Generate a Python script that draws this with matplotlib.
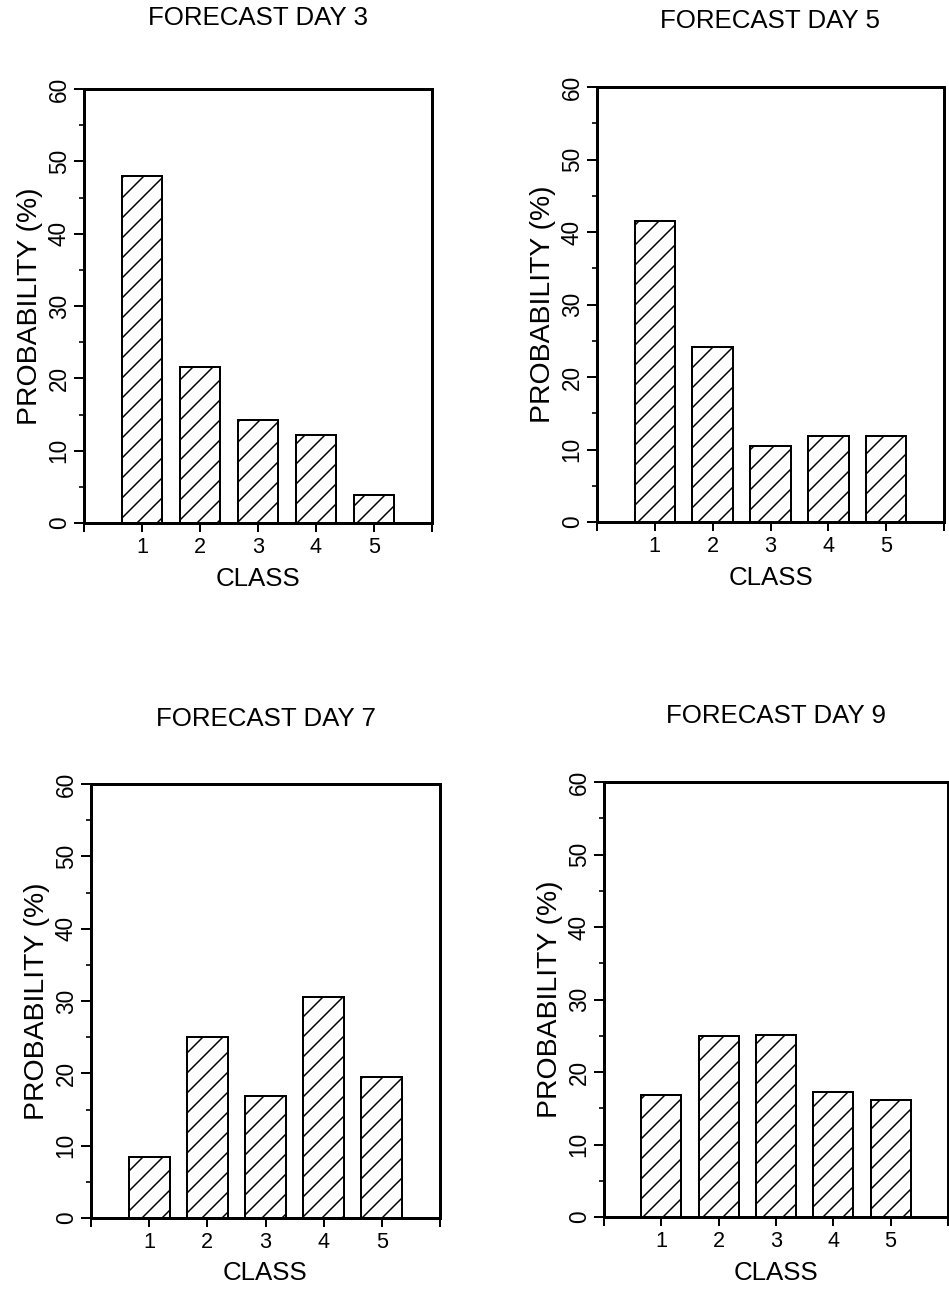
import matplotlib
matplotlib.use("Agg")
import matplotlib.pyplot as plt
from matplotlib.ticker import MultipleLocator, FixedLocator

# class probabilities (%) for each forecast lead time
classes = [1, 2, 3, 4, 5]
day3 = [48.0, 21.5, 14.3, 12.2, 3.9]
day5 = [41.5, 24.2, 10.5, 11.8, 11.8]
day7 = [8.4, 25.0, 16.8, 30.6, 19.5]
day9 = [16.8, 25.0, 25.1, 17.2, 16.2]
titles = ["FORECAST DAY 3", "FORECAST DAY 5", "FORECAST DAY 7", "FORECAST DAY 9"]
xtick_labels = ["", "1", "2", "3", "4", "5", ""]

W, H, DPI = 949, 1293, 120
plt.rcParams["font.family"] = ["Liberation Sans", "DejaVu Sans"]
plt.rcParams["hatch.linewidth"] = 0.9

fig = plt.figure(figsize=(W / DPI, H / DPI), dpi=DPI)

# axes boxes in pixels: left, right, top, bottom, title centre
boxes = [(84, 432, 89, 523, 18), (597, 944, 87, 522, 21),
         (91, 440, 784, 1218, 719), (604, 948, 782, 1217, 716)]


def panel(box, values, title):
    l, r, t, b, ty = box
    ax = fig.add_axes([l / W, 1 - b / H, (r - l) / W, (b - t) / H])
    ax.bar(classes, values, width=0.7, color="white", edgecolor="black",
           linewidth=1.2, hatch="//", zorder=2)
    ax.set_xlim(0, 6)
    ax.set_ylim(0, 60)

    ax.xaxis.set_major_locator(FixedLocator(range(7)))
    ax.set_xticklabels(xtick_labels)
    ax.yaxis.set_major_locator(MultipleLocator(10))
    ax.yaxis.set_minor_locator(MultipleLocator(5))
    ax.tick_params(axis="x", direction="out", length=5.5, width=1.2,
                   labelsize=13, pad=3)
    ax.tick_params(axis="y", which="major", direction="out", length=6,
                   width=1.2, labelsize=13.5, pad=2, labelrotation=90)
    ax.tick_params(axis="y", which="minor", direction="out", length=3, width=1.0)
    for lbl in ax.get_yticklabels():
        lbl.set_verticalalignment("center")

    for s in ax.spines.values():
        s.set_linewidth(1.8)

    ax.set_xlabel("CLASS", fontsize=15.5, labelpad=5)
    ax.set_ylabel("PROBABILITY (%)", fontsize=17, labelpad=3)
    fig.text((l + r) / 2 / W, 1 - ty / H, title, ha="center", va="center",
             fontsize=15.5)
    return ax


for box, vals, title in zip(boxes, [day3, day5, day7, day9], titles):
    panel(box, vals, title)

fig.savefig("out.png", dpi=DPI, facecolor="white")
